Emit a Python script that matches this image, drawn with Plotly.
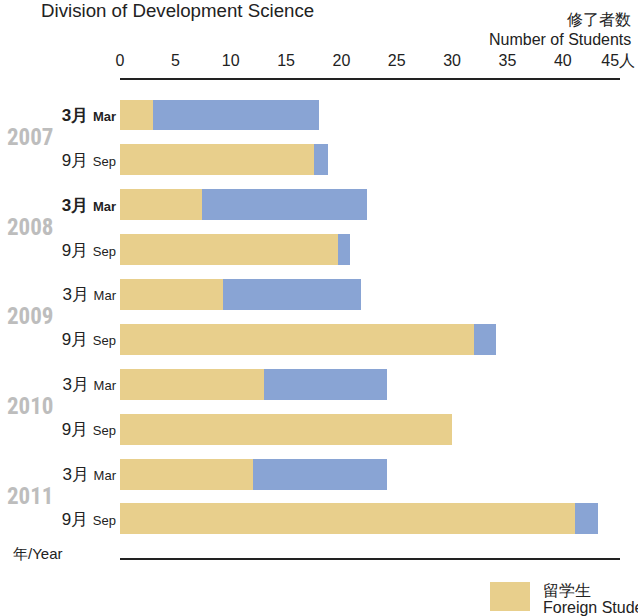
import plotly.graph_objects as go

# ---- data ----
years = ["2007", "2008", "2009", "2010", "2011"]
terms_jp = ["3月", "9月"]
terms_en = ["Mar", "Sep"]
foreign_students = [3.0, 17.5, 7.4, 19.7, 9.3, 32.0, 13.0, 30.0, 12.0, 41.1]
other_students = [15.0, 1.3, 14.9, 1.05, 12.5, 2.0, 11.1, 0.0, 12.1, 2.1]
bold_labels = [True, False, True, False, False, False, False, False, False, False]
x_tick_values = [0, 5, 10, 15, 20, 25, 30, 35, 40, 45]
x_tick_labels = ["0", "5", "10", "15", "20", "25", "30", "35", "40", "45人"]
title_text = "Division of Development Science"
axis_title_jp = "修了者数"
axis_title_en = "Number of Students"
year_axis_label = "年/Year"
legend_jp = "留学生"
legend_en = "Foreign Students"

GOLD = "#E8CF8C"
BLUE = "#89A4D4"
FONT = "Liberation Sans, Arial, Helvetica, sans-serif"
YEAR_FONT = "Roboto Condensed, Liberation Sans Narrow, DejaVu Sans Condensed, Arial Narrow, sans-serif"

W, H = 638, 616
L, R, T, B = 120, 18, 80, 58
pw, ph = W - L - R, H - T - B


def px(xp):
    return (xp - L) / pw


def py(yp):
    return 1 - (yp - T) / ph


n = len(foreign_students)
y_idx = list(range(n))
tick_text = []
for i in y_idx:
    jp = terms_jp[i % 2]
    en = terms_en[i % 2]
    s = f"{jp} <span style='font-size:13px'>{en}</span>"
    if bold_labels[i]:
        s = f"<b>{s}</b>"
    tick_text.append(s)

fig = go.Figure()
fig.add_trace(go.Bar(
    y=y_idx, x=foreign_students, orientation="h", marker_color=GOLD,
    marker_line_width=0, width=0.69, name=legend_jp, showlegend=False,
))
fig.add_trace(go.Bar(
    y=y_idx, x=other_students, orientation="h", marker_color=BLUE,
    marker_line_width=0, width=0.69, showlegend=False,
))

annotations = []
for k, yr in enumerate(years):
    annotations.append(dict(
        x=px(30), xref="paper", xanchor="center", y=2 * k + 0.5, yref="y",
        text=f"<b>{yr}</b>", showarrow=False,
        font=dict(family=YEAR_FONT, size=23, color="#BDBDBD"),
    ))


def label(text, xp, yp, size, anchor="left"):
    return dict(x=px(xp), xref="paper", y=py(yp), yref="paper", text=text,
                showarrow=False, xanchor=anchor, yanchor="middle",
                font=dict(family=FONT, size=size, color="#222"))


annotations += [
    label(title_text, 39, 10, 18.7),
    label(axis_title_jp, 633, 19, 15.5, "right"),
    label(axis_title_en, 633, 39, 16, "right"),
    label(year_axis_label, 11, 553, 15),
    label(legend_jp, 541, 590, 16),
    label(legend_en, 541, 607, 16),
]

fig.update_layout(
    width=W, height=H, barmode="stack",
    margin=dict(l=L, r=R, t=T, b=B, autoexpand=False),
    paper_bgcolor="white", plot_bgcolor="white",
    font=dict(family=FONT, size=16, color="#222"),
    showlegend=False,
    bargap=0,
    xaxis=dict(
        side="top", range=[0, 45.17], tickvals=x_tick_values, ticktext=x_tick_labels,
        showgrid=False, zeroline=False, showline=True, mirror=True,
        linecolor="#222", linewidth=2, ticks="", ticklabelstandoff=6,
        tickfont=dict(size=16, color="#222"), fixedrange=True,
    ),
    yaxis=dict(
        range=[9.87, -0.78], tickvals=y_idx, ticktext=tick_text,
        showgrid=False, zeroline=False, showline=False, ticks="",
        tickfont=dict(size=17, color="#222"), ticklabelstandoff=3,
    ),
    annotations=annotations,
    shapes=[dict(type="rect", xref="paper", yref="paper",
                 x0=px(490), x1=px(530), y0=py(611), y1=py(582),
                 fillcolor=GOLD, line_width=0)],
)

fig.write_html("out.html")
